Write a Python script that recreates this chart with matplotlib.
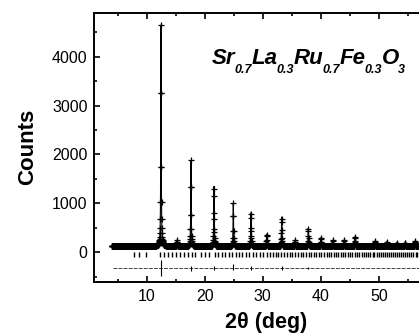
import numpy as np
import matplotlib
matplotlib.use('Agg')
import matplotlib.pyplot as plt
from matplotlib.ticker import MultipleLocator, FixedLocator

plt.rcParams['font.family'] = ['Liberation Sans', 'DejaVu Sans']

# ---------------- data ----------------
# observed reflections: 2theta position (deg) and height above background (counts)
peak_pos = [12.47, 15.17, 17.63, 21.60, 24.92, 27.97, 30.67, 33.25, 35.54,
            37.83, 40.02, 42.03, 43.98, 45.87, 49.32, 51.33, 53.06, 54.49, 56.20]
peak_height = [4525, 125, 1755, 1225, 885, 685, 245, 595, 125,
               365, 175, 125, 125, 195, 105, 85, 75, 75, 105]
background = 122          # flat background level (counts)
peak_fwhm = 0.09          # instrumental peak width (deg)
scan_start, scan_end, scan_step = 3.95, 58.0, 0.03

# Bragg reflection markers (deg)
bragg_pos = [7.8, 8.7, 9.9,
             12.3, 13.0, 13.7, 14.4, 15.1, 15.8, 16.5, 17.1, 17.8, 18.4, 19.4, 20.0,
             20.7, 21.7, 22.3, 22.9, 23.5, 24.1, 24.7, 25.3, 25.9, 26.5, 27.1, 27.7,
             28.3, 28.9, 29.5, 30.1, 30.7, 31.2, 31.7, 32.2, 32.7, 33.2, 33.7, 34.2,
             34.6, 35.1, 35.6, 36.0, 36.5, 37.0, 37.4, 37.9, 38.3, 38.8, 39.2, 39.7,
             40.1, 40.5, 41.0, 41.4, 41.8, 42.2, 42.6, 43.0, 43.4, 43.8, 44.2, 44.6,
             45.0, 45.4, 45.8, 46.2, 46.6, 47.0, 47.4, 47.7, 48.1, 48.5, 48.9, 49.2,
             49.6, 50.0, 50.3, 50.7, 51.0, 51.4, 51.7, 52.1, 52.4, 52.8, 53.1, 53.5,
             53.8, 54.2, 54.5, 54.9, 55.2, 55.6, 55.9, 56.3, 56.6, 57.0, 57.4]

# difference curve: level and residual spikes (deg, upper, lower counts)
diff_level = -325
diff_start = 4.2
diff_spike_pos = [12.47, 17.63, 21.60, 24.92, 27.97, 33.25, 37.83]
diff_spike_hi = [-150, -275, -290, -240, -285, -290, -300]
diff_spike_lo = [-495, -380, -360, -370, -360, -360, -350]

# chemical formula
formula_elements = ['Sr', 'La', 'Ru', 'Fe', 'O']
formula_counts = ['0.7', '0.3', '0.7', '0.3', '3']

x_ticks = [10, 20, 30, 40, 50]
y_ticks = [0, 1000, 2000, 3000, 4000]

# ---------------- profile ----------------
def profile(x):
    y = np.full_like(x, float(background))
    for p, h in zip(peak_pos, peak_height):
        y += h / (1.0 + ((x - p) / (peak_fwhm / 2.0)) ** 2)
    return y

obs_x = np.arange(scan_start, scan_end, scan_step)
obs_y = profile(obs_x)
calc_x = np.arange(scan_start, scan_end, scan_step / 6)
calc_y = profile(calc_x)

# ---------------- figure ----------------
fig = plt.figure(figsize=(4.19, 3.33), dpi=100)
ax = fig.add_axes([94.4 / 419, 51.4 / 333, (437 - 94.4) / 419, 268.9 / 333])

ax.plot(obs_x, obs_y, linestyle='none', marker='+', ms=4.8, mew=0.9, color='black')
ax.plot(calc_x, calc_y, color='black', lw=0.8)
ax.vlines(bragg_pos, -95, 12, color='black', lw=1.0)
ax.plot([diff_start, scan_end], [diff_level, diff_level], color='#444444', lw=0.7,
        linestyle=(0, (4, 1.2)))
ax.vlines(diff_spike_pos, diff_spike_lo, diff_spike_hi, color='black', lw=0.8)

ax.set_xlim(1, 60)
ax.set_ylim(-600, 4900)
ax.set_xticks(x_ticks)
ax.set_yticks(y_ticks)
ax.xaxis.set_minor_locator(MultipleLocator(5))
ax.yaxis.set_minor_locator(MultipleLocator(500))
ax.tick_params(which='both', direction='in', top=True, right=True, width=1.2,
               labelsize=11.5, pad=5)
ax.tick_params(which='major', length=4.5)
ax.tick_params(which='minor', length=2.5)
for s in ax.spines.values():
    s.set_linewidth(1.4)

ax.set_xlabel('2θ (deg)', fontsize=15.5, fontweight='bold', labelpad=6)
ax.set_ylabel('Counts', fontsize=16, fontweight='bold', labelpad=10)

# formula text chained piece by piece
y_main, y_sub = 0.808, 0.777
prev = ax.text(0.343, y_main, formula_elements[0], transform=ax.transAxes,
               fontsize=16, fontweight='bold', style='italic', va='baseline')
for i, cnt in enumerate(formula_counts):
    prev = ax.annotate(cnt, xy=(1, y_sub), xycoords=(prev, 'axes fraction'),
                       xytext=(-0.5, 0), textcoords='offset points',
                       fontsize=9, fontweight='bold', style='italic',
                       va='baseline', ha='left', annotation_clip=False)
    if i + 1 < len(formula_elements):
        prev = ax.annotate(formula_elements[i + 1], xy=(1, y_main),
                           xycoords=(prev, 'axes fraction'),
                           xytext=(-0.5, 0), textcoords='offset points',
                           fontsize=16, fontweight='bold', style='italic',
                           va='baseline', ha='left', annotation_clip=False)

fig.savefig('out.png', dpi=100)
